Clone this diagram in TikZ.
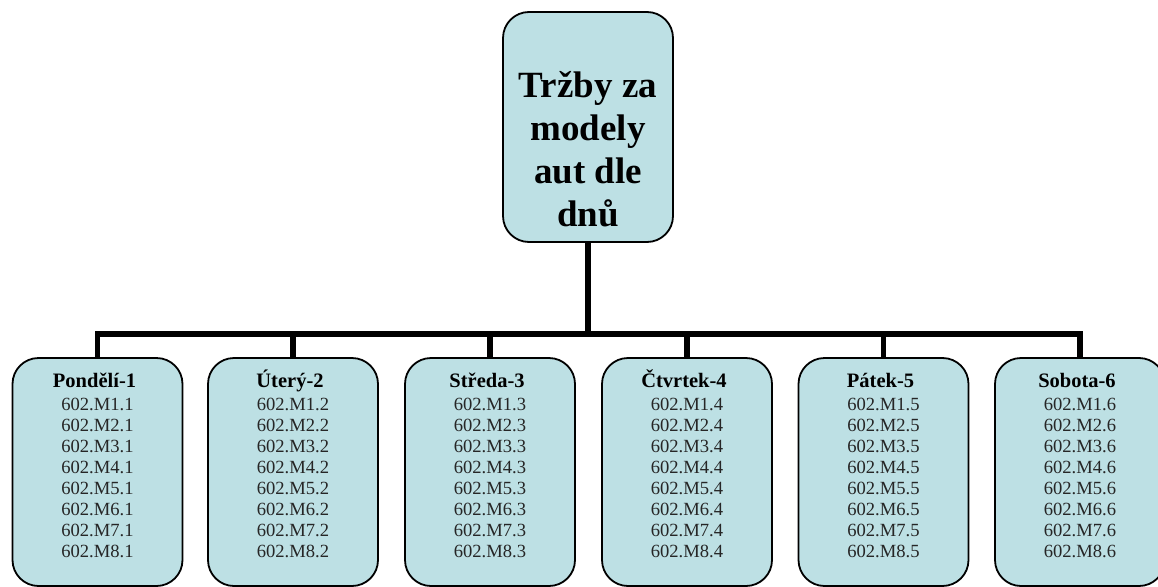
\documentclass[tikz,border=0pt]{standalone}
\usepackage{fontspec}
\setmainfont{Liberation Serif}
\definecolor{boxfill}{RGB}{189,224,228}
\begin{document}
\begin{tikzpicture}[x=1pt,y=-1pt,
  box/.style={draw=black,line width=1.8pt,fill=boxfill,rounded corners=26pt,rectangle,inner sep=0pt},
  conn/.style={draw=black,line width=5.5pt,line join=miter},
  title/.style={font=\fontsize{37}{43}\selectfont\bfseries,align=center,inner sep=0pt},
  head/.style={font=\fontsize{20.5}{24}\selectfont\bfseries,inner sep=0pt,anchor=base},
  body/.style={font=\fontsize{18.6}{21}\selectfont,align=center,inner sep=0pt,anchor=north,text=black!85}]
\clip (0,0) rectangle (1158,586);
\node[box,minimum width=170pt,minimum height=230pt] (top) at (588,127) {};
\node[title] (toptext) at (588,149) {Tržby za\\modely\\aut dle\\dnů};
\coordinate (hub) at (588,334);
\draw[conn] (top.south) -- (hub);
\foreach \i/\x/\h in {1/97.5/Pondělí-1,2/293/Úterý-2,3/490/Středa-3,4/687/Čtvrtek-4,5/883.5/Pátek-5,6/1080/Sobota-6}{
  \node[box,minimum width=170pt,minimum height=228pt] (b\i) at (\x,358+114) {};
  \node[head] (h\i) at (\x-3,387) {\h};
  \node[body] (t\i) at (\x,397.5) {602.M1.\i\\602.M2.\i\\602.M3.\i\\602.M4.\i\\602.M5.\i\\602.M6.\i\\602.M7.\i\\602.M8.\i};
  \draw[conn] (hub) -| (b\i.north);
}
\end{tikzpicture}
\end{document}
